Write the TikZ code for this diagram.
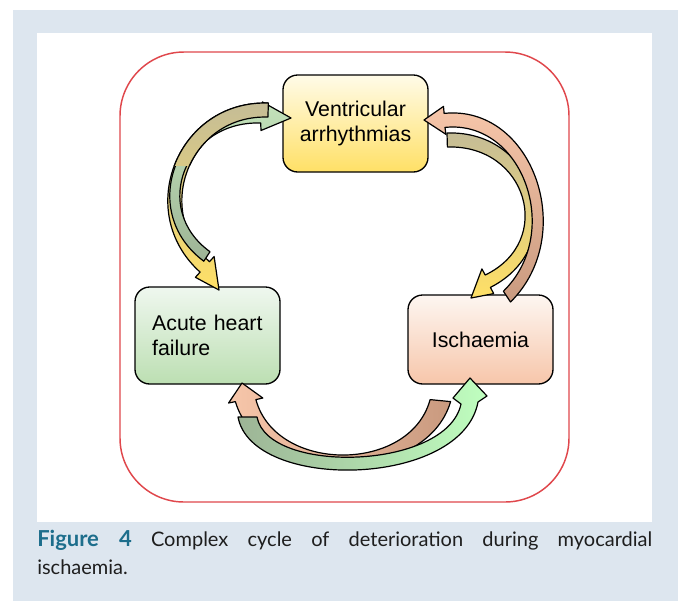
\documentclass[tikz,border=0pt]{standalone}
\usepackage{fontspec}
\setmainfont{Liberation Sans}
\newfontfamily\capfont{Lato}
\definecolor{panelblue}{HTML}{DDE6EF}
\definecolor{framered}{HTML}{E0474C}
\definecolor{figteal}{HTML}{1D6E8C}
\definecolor{captext}{HTML}{1E1E1E}
\definecolor{vaTop}{HTML}{FFFBE8}
\definecolor{vaBot}{HTML}{FFE066}
\definecolor{ahfTop}{HTML}{EFF7EF}
\definecolor{ahfBot}{HTML}{BCDFB2}
\definecolor{isTop}{HTML}{FDF6F1}
\definecolor{isBot}{HTML}{F7C6AA}
\definecolor{tan}{HTML}{C4BC97}
\definecolor{sage}{HTML}{9DB496}
\definecolor{clay}{HTML}{C99A7F}
\begin{document}
\begin{tikzpicture}[x=0.75pt,y=0.75pt,yscale=-1,xscale=1,
  cyclebox/.style={draw=black,line width=1pt,rounded corners=11pt,minimum width=108.75pt,inner sep=0pt,align=center,font=\fontsize{16}{19}\selectfont},
  cyclearrow/.style={draw=black,line width=0.9pt,line join=round}]
\useasboundingbox (0,0) rectangle (678,601);

%Shape: Rectangle [panel]
\fill[panelblue] (13,10) rectangle (678,601);
\fill[white] (37,33) rectangle (652,522);
%Shape: Rounded Rect [frame]
\draw[framered,line width=1.1pt,rounded corners=48pt] (120,52) rectangle (569,502);

% Text Node
\node[cyclebox,minimum height=72.75pt,top color=vaTop,bottom color=vaBot] (va) at (355.5,123.5) {Ventricular\\arrhythmias};
% Text Node
\node[cyclebox,minimum height=72.75pt,text width=83pt,inner xsep=12pt,align=left,top color=ahfTop,bottom color=ahfBot] (ahf) at (207.5,335.5) {Acute heart\\failure};
% Text Node
\node[cyclebox,minimum height=66.75pt,top color=isTop,bottom color=isBot] (isch) at (480.5,339.5) {Ischaemia};

%Shape: Curved Arrow [va to ahf]
\draw[cyclearrow,top color=tan,middle color=vaTop,bottom color=vaBot] (268.4,103.1) .. controls (177.9,99.9) and (132.8,211.5) .. (200.1,272.1) -- (195.4,277.3) -- (219,290) -- (214.1,256.5) -- (209.5,261.7) .. controls (151.9,209.8) and (190.5,114.3) .. (267.9,117.1) -- cycle ;
%Shape: Curved Arrow [ahf to va]
\draw[cyclearrow,top color=ahfBot!90,middle color=ahfTop!60!ahfBot,bottom color=sage] (203.8,261.2) .. controls (136.6,211.1) and (175.9,108.2) .. (261.1,111) -- (262.5,102) -- (291,118) -- (261,130.5) -- (260.7,123) .. controls (185.2,120.6) and (150.4,208.8) .. (210,251.7) -- cycle ;
% upper part of the va to ahf arrow lies over the other one
\begin{scope}
\clip (150,90) rectangle (300,165);
\draw[cyclearrow,top color=tan,middle color=vaTop,bottom color=vaBot] (268.4,103.1) .. controls (177.9,99.9) and (132.8,211.5) .. (200.1,272.1) -- (195.4,277.3) -- (219,290) -- (214.1,256.5) -- (209.5,261.7) .. controls (151.9,209.8) and (190.5,114.3) .. (267.9,117.1) -- cycle ;
\end{scope}
%Shape: Curved Arrow [va to isch]
\draw[cyclearrow,top color=tan,middle color=vaTop,bottom color=vaBot] (447,133) .. controls (538.2,130) and (570.9,246.6) .. (490.4,287.4) -- (493.7,293.6) -- (471,298) -- (481.9,268.9) -- (485.2,275) .. controls (555.4,241.2) and (526.9,144.5) .. (447.4,147) -- cycle ;
%Shape: Curved Arrow [isch to va]
\draw[cyclearrow,top color=isBot,middle color=isBot!75,bottom color=clay] (510.5,302) .. controls (578.6,234.7) and (532.7,104.3) .. (444.1,113.4) -- (443.5,106.4) -- (424,120) -- (445.9,134.3) -- (445,127.4) .. controls (522.9,119.4) and (563.3,232.8) .. (503.4,291.2) -- cycle ;
%Shape: Curved Arrow [isch to ahf]
\draw[cyclearrow,left color=isBot,middle color=isTop,right color=clay] (450.6,401.6) .. controls (425.9,486.1) and (260.1,486.1) .. (235.4,401.6) -- (228.6,403) -- (242,383) -- (262.8,398) -- (255.9,399.6) .. controls (275.9,473.5) and (410.1,473.5) .. (430.1,399.6) -- cycle ;
%Shape: Curved Arrow [ahf to isch]
\draw[cyclearrow,left color=sage,middle color=ahfTop,right color=green!25] (238,417) .. controls (252,492) and (462,488) .. (478,402) -- (487,396) -- (470,378) -- (453,398) -- (461,404) .. controls (447,470) and (268,475) .. (257,417) -- cycle ;

% Text Node
\node[anchor=north west,inner sep=0pt,text width=461.25pt,align=justify,text=captext,font=\capfont\fontsize{15}{21}\selectfont] (cap) at (37,530) {{\color{figteal}\fontsize{16.5}{21}\selectfont\bfseries Figure 4} Complex cycle of deterioration during myocardial\linebreak ischaemia.};

\end{tikzpicture}
\end{document}
